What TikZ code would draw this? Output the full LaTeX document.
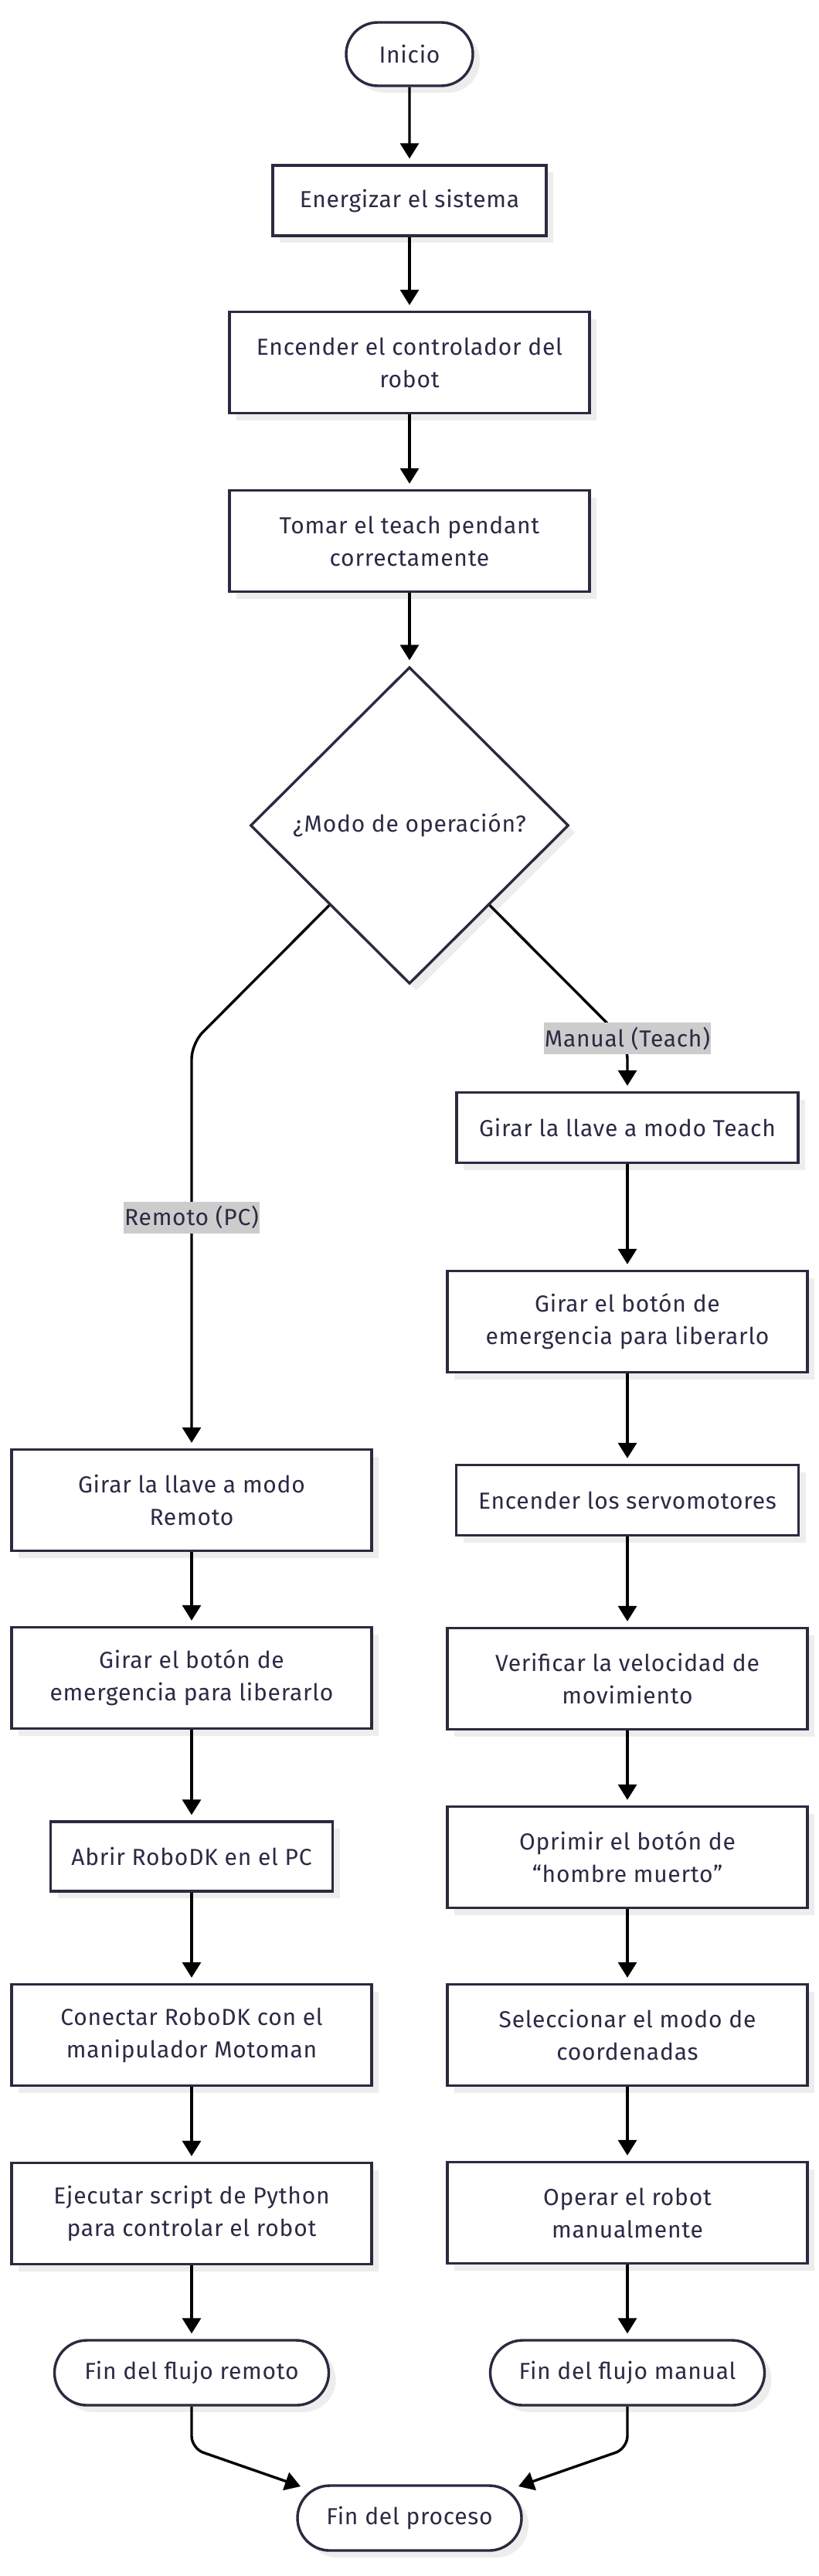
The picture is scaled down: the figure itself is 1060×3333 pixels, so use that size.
\documentclass[tikz,border=0pt]{standalone}
\usepackage{fontspec}
\setmainfont[LetterSpace=2.5]{Fira Sans}
\usetikzlibrary{shapes.geometric,shapes.misc,arrows.meta,shadows}
\definecolor{bordercol}{HTML}{2A2A40}
\definecolor{textcol}{HTML}{2B2B45}
\definecolor{shadowcol}{HTML}{EDEDED}
\definecolor{lblcol}{HTML}{CCCCCC}
\newcommand{\fsz}{\fontsize{30}{42}\selectfont}
\tikzset{
  base/.style={draw=bordercol, line width=3.4pt, fill=white, text=textcol, font=\fsz,
    align=center, inner sep=0pt,
    drop shadow={shadow xshift=9pt, shadow yshift=-9pt, fill=shadowcol, opacity=1}},
  procbox/.style={base, rectangle},
  term/.style={base, rounded rectangle},
  decision/.style={base, diamond, aspect=1},
  lbl/.style={fill=lblcol, text=textcol, font=\fsz, inner xsep=1pt, inner ysep=0pt,
    minimum height=41pt},
  flow/.style={line width=3.4pt, draw=black, -{Triangle[length=20pt,width=24pt]}, shorten >=7pt},
  flowfree/.style={line width=3.4pt, draw=black, -{Triangle[length=20pt,width=24pt]}},
}
\begin{document}
\begin{tikzpicture}[x=1pt,y=-1pt]
\useasboundingbox (0,0) rectangle (1060,3333);
% top chain
\node[term, minimum width=164pt, minimum height=82pt] (ini) at (530,70) {Inicio};
\node[procbox, minimum width=354pt, minimum height=91pt] (ene) at (530,259.5) {Energizar el sistema};
\node[procbox, minimum width=466pt, minimum height=131pt] (enc) at (530,469) {Encender el controlador del\\robot};
\node[procbox, minimum width=466pt, minimum height=131pt] (tom) at (530,700) {Tomar el teach pendant\\correctamente};
\node[decision, minimum width=412pt, minimum height=410pt] (dec) at (530,1068) {¿Modo de operación?};
% left column
\node[procbox, minimum width=466pt, minimum height=131pt] (l1) at (248,1941) {Girar la llave a modo\\Remoto};
\node[procbox, minimum width=466pt, minimum height=131pt] (l2) at (248,2171) {Girar el botón de\\emergencia para liberarlo};
\node[procbox, minimum width=365pt, minimum height=90pt] (l3) at (248,2402) {Abrir RoboDK en el PC};
\node[procbox, minimum width=466pt, minimum height=131pt] (l4) at (248,2633) {Conectar RoboDK con el\\manipulador Motoman};
\node[procbox, minimum width=466pt, minimum height=131pt] (l5) at (248,2864) {Ejecutar script de Python\\para controlar el robot};
\node[term, minimum width=355pt, minimum height=84pt] (fr) at (248,3070) {Fin del flujo remoto};
% right column
\node[procbox, minimum width=442pt, minimum height=91pt] (r1) at (812,1459) {Girar la llave a modo Teach};
\node[procbox, minimum width=466pt, minimum height=131pt] (r2) at (812,1710) {Girar el botón de\\emergencia para liberarlo};
\node[procbox, minimum width=443pt, minimum height=91pt] (r3) at (812,1941) {Encender los servomotores};
\node[procbox, minimum width=466pt, minimum height=131pt] (r4) at (812,2172) {Verificar la velocidad de\\movimiento};
\node[procbox, minimum width=466pt, minimum height=131pt] (r5) at (812,2403) {Oprimir el botón de\\“hombre muerto”};
\node[procbox, minimum width=466pt, minimum height=131pt] (r6) at (812,2633) {Seleccionar el modo de\\coordenadas};
\node[procbox, minimum width=466pt, minimum height=131pt] (r7) at (812,2863) {Operar el robot\\manualmente};
\node[term, minimum width=355pt, minimum height=84pt] (fm) at (812,3070) {Fin del flujo manual};
% end
\node[term, minimum width=290pt, minimum height=84pt] (fp) at (530,3258) {Fin del proceso};
% coordinates
\coordinate (cl) at (248,1350);
\coordinate (cr) at (812,1350);
\coordinate (bl) at (248,3168);
\coordinate (br) at (812,3168);
\coordinate (tl) at (389,3217);
\coordinate (tr) at (671,3217);
% connectors
\draw[flow] (ini) -- (ene);
\draw[flow] (ene) -- (enc);
\draw[flow] (enc) -- (tom);
\draw[flow] (tom) -- (dec);
\draw[flow, rounded corners=20pt] (dec.south west) -- (cl) -- (l1.north);
\draw[flow, rounded corners=20pt] (dec.south east) -- (cr) -- (r1.north);
\draw[flow] (l1) -- (l2);
\draw[flow] (l2) -- (l3);
\draw[flow] (l3) -- (l4);
\draw[flow] (l4) -- (l5);
\draw[flow] (l5) -- (fr);
\draw[flow] (r1) -- (r2);
\draw[flow] (r2) -- (r3);
\draw[flow] (r3) -- (r4);
\draw[flow] (r4) -- (r5);
\draw[flow] (r5) -- (r6);
\draw[flow] (r6) -- (r7);
\draw[flow] (r7) -- (fm);
\draw[flowfree, rounded corners=16pt] (fr.south) -- (bl) -- (tl);
\draw[flowfree, rounded corners=16pt] (fm.south) -- (br) -- (tr);
% edge labels
\node[lbl] (lr) at (248,1575) {Remoto (PC)};
\node[lbl] (lm) at (812,1343.5) {Manual (Teach)};
\end{tikzpicture}
\end{document}
